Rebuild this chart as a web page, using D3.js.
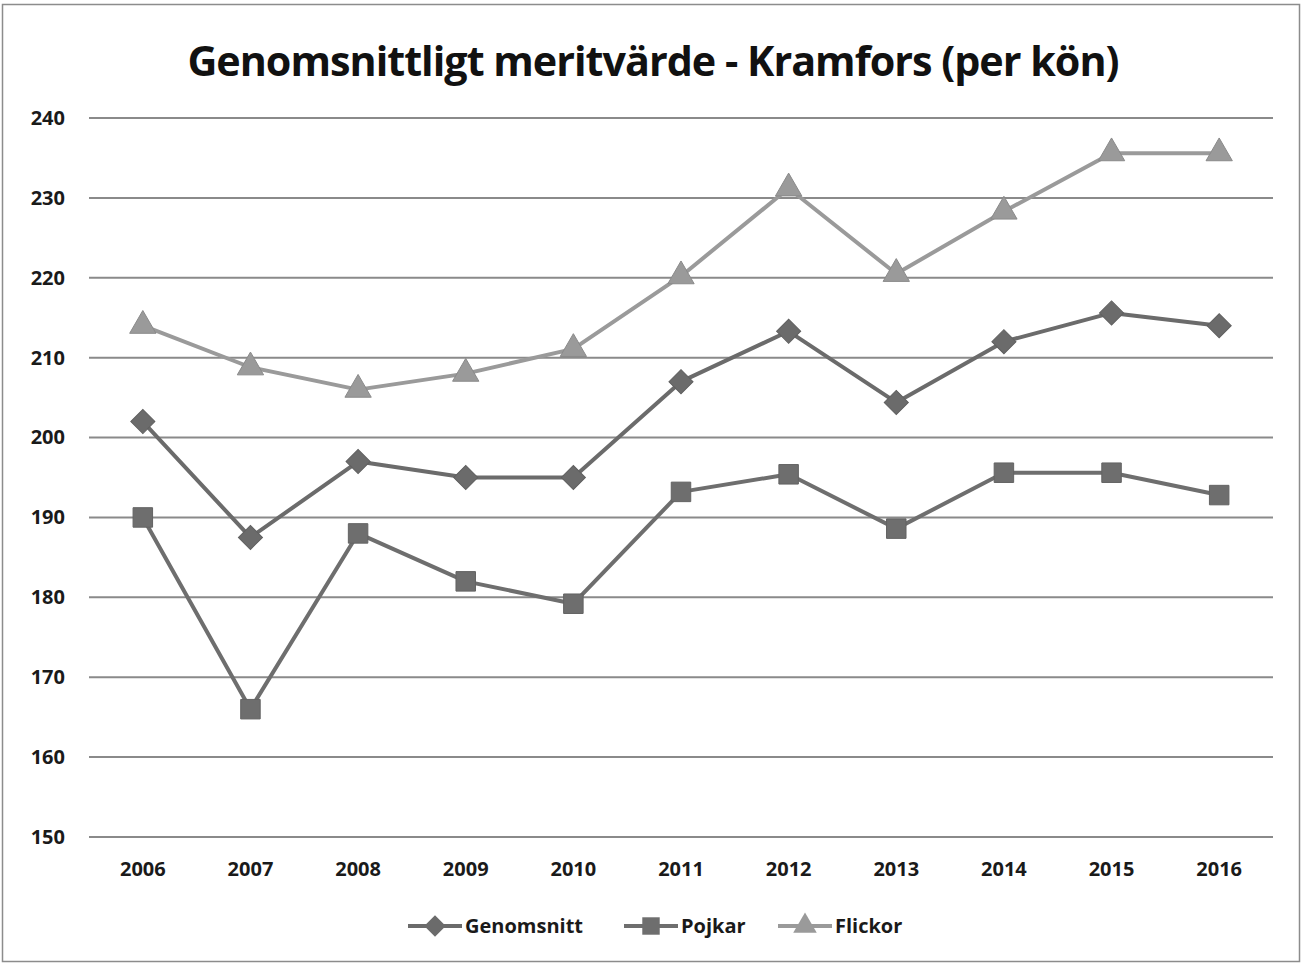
<!DOCTYPE html>
<html><head><meta charset="utf-8">
<script src="https://cdn.jsdelivr.net/npm/d3@7/dist/d3.min.js"></script>
<style>body{margin:0;background:#fff}svg{display:block}</style>
</head><body>
<svg id="c" width="1302" height="964"></svg>
<script>
const years = ["2006","2007","2008","2009","2010","2011","2012","2013","2014","2015","2016"];
const genomsnitt = [202, 187.5, 197, 195, 195, 207, 213.3, 204.4, 212, 215.6, 214];
const pojkar = [190, 166, 188, 182, 179.2, 193.2, 195.4, 188.6, 195.6, 195.6, 192.8];
const flickor = [214, 208.8, 206, 208, 211.1, 220.2, 231.2, 220.5, 228.3, 235.6, 235.6];
const yTicks = [150,160,170,180,190,200,210,220,230,240];
const seriesNames = ["Genomsnitt","Pojkar","Flickor"];
const title = "Genomsnittligt meritvärde - Kramfors (per kön)";

const svg = d3.select("#c");
const m = {left: 89, right: 1273, top: 118, bottom: 837};
const font = "'Open Sans', 'Liberation Sans', sans-serif";

svg.append("rect").attr("x",2.5).attr("y",4.5).attr("width",1297).attr("height",957)
  .attr("fill","#fff").attr("stroke","#8c8c8c").attr("stroke-width",1.5);

const x = d3.scaleBand().domain(years).range([m.left, m.right]);
const y = d3.scaleLinear().domain([150,240]).range([m.bottom, m.top]);

// gridlines
svg.append("g").selectAll("line").data(yTicks).join("line")
  .attr("x1", m.left).attr("x2", m.right)
  .attr("y1", d=>y(d)).attr("y2", d=>y(d))
  .attr("stroke","#8a8a8a").attr("stroke-width",2);

// y axis labels
const yAxis = d3.axisLeft(y).tickValues(yTicks).tickSize(0).tickPadding(24);
const ga = svg.append("g").attr("transform",`translate(${m.left},0)`).call(yAxis);
ga.select(".domain").remove();
ga.selectAll("text").attr("font-family",font).attr("font-weight","bold").attr("font-size",20).attr("fill","#1a1a1a");

const xAxis = d3.axisBottom(x).tickSize(0).tickPadding(25);
const gx = svg.append("g").attr("transform",`translate(0,${m.bottom})`).call(xAxis);
gx.select(".domain").remove();
gx.selectAll("text").attr("font-family",font).attr("font-weight","bold").attr("font-size",20).attr("fill","#1a1a1a");

const cx = d => x(d) + x.bandwidth()/2;
const series = [
  {name: seriesNames[0], vals: genomsnitt, color: "#6b6b6b", sym: d3.symbolSquare, size: 290, rot: 45},
  {name: seriesNames[1], vals: pojkar, color: "#6e6e6e", sym: d3.symbolSquare, size: 380, rot: 0},
  {name: seriesNames[2], vals: flickor, color: "#9a9a9a", sym: d3.symbolTriangle, size: 300, rot: 0}
];
const line = d3.line().x((d,i)=>cx(years[i])).y(d=>y(d));
series.forEach(s=>{
  svg.append("path").attr("d", line(s.vals)).attr("fill","none")
    .attr("stroke", s.color).attr("stroke-width",4).attr("stroke-linejoin","round");
  svg.append("g").selectAll("path").data(s.vals).join("path")
    .attr("d", d3.symbol(s.sym, s.size))
    .attr("transform",(d,i)=>`translate(${cx(years[i])},${y(d)}) rotate(${s.rot})`)
    .attr("fill", s.color).attr("stroke", d3.color(s.color).darker(0.3)).attr("stroke-width",1);
});

// title
const t = svg.append("text").attr("x", 653).attr("y", 76).attr("text-anchor","middle")
  .attr("font-family",font).attr("font-weight","bold").attr("font-size",40).attr("fill","#111")
  .attr("letter-spacing", -1).text(title);
const tw = t.node().getComputedTextLength();
t.attr("font-size", 40 * 930 / tw);

// legend
const legX = [408, 624, 778];
const lg = svg.append("g");
series.forEach((s,i)=>{
  const g = lg.append("g").attr("transform",`translate(${legX[i]},926)`);
  g.append("line").attr("x1",0).attr("x2",54).attr("y1",0).attr("y2",0).attr("stroke",s.color).attr("stroke-width",4);
  g.append("path").attr("d", d3.symbol(s.sym, s.size*0.8)).attr("transform",`translate(27,0) rotate(${s.rot})`).attr("fill",s.color);
  g.append("text").attr("x",57).attr("y",7).attr("font-family",font).attr("font-weight","bold")
    .attr("font-size",20).attr("fill","#1a1a1a").text(s.name);
});
</script>
</body></html>
